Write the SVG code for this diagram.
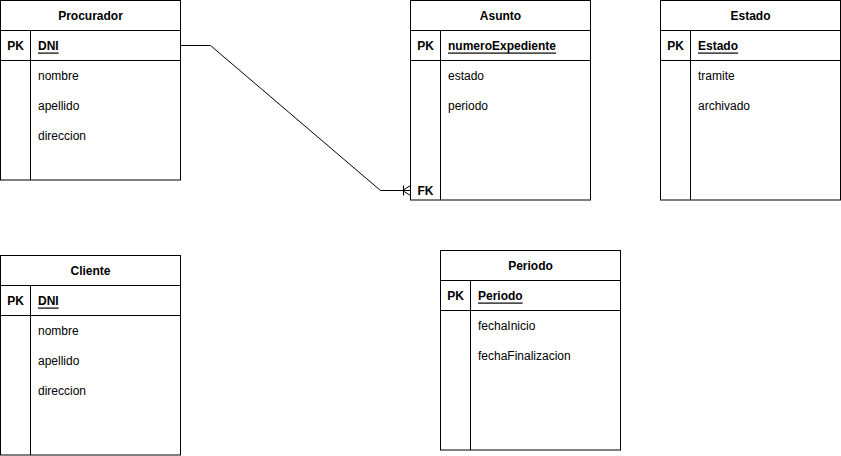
<svg xmlns="http://www.w3.org/2000/svg" width="841" height="456" viewBox="0 0 841 456">
<style>
.box{fill:#fff;stroke:#000;stroke-width:1}
.ln{stroke:#000;stroke-width:1;fill:none}
text{font-family:"Liberation Sans",Arial,sans-serif;font-size:12px;fill:#000;dominant-baseline:central}
.h{font-weight:bold;text-anchor:middle}
.k{font-weight:bold;text-anchor:middle}
.pk{font-weight:bold;text-decoration:underline}
</style>
<rect width="841" height="456" fill="#fff"/>
<g id="procurador">
<rect class="box" x="0.5" y="0.5" width="180" height="179.5"/>
<line class="ln" x1="0.5" y1="30.5" x2="180.5" y2="30.5"/>
<line class="ln" x1="0.5" y1="60.5" x2="180.5" y2="60.5"/>
<line class="ln" x1="30.5" y1="30.5" x2="30.5" y2="180"/>
<text class="h" x="90.5" y="15.5">Procurador</text>
<text class="k" x="15.5" y="45.5">PK</text>
<text class="pk" x="38" y="45.5">DNI</text>
<text x="38" y="75.5">nombre</text>
<text x="38" y="105.5">apellido</text>
<text x="38" y="135.5">direccion</text>
</g>
<g id="asunto">
<rect class="box" x="410.5" y="0.5" width="180" height="199.5"/>
<line class="ln" x1="410.5" y1="30.5" x2="590.5" y2="30.5"/>
<line class="ln" x1="410.5" y1="60.5" x2="590.5" y2="60.5"/>
<line class="ln" x1="440.5" y1="30.5" x2="440.5" y2="200"/>
<text class="h" x="500.5" y="15.5">Asunto</text>
<text class="k" x="425.5" y="45.5">PK</text>
<text class="pk" x="448" y="45.5">numeroExpediente</text>
<text x="448" y="75.5">estado</text>
<text x="448" y="105.5">periodo</text>
<text class="k" x="425.5" y="190.5">FK</text>
</g>
<g id="estado">
<rect class="box" x="660.5" y="0.5" width="180" height="199.5"/>
<line class="ln" x1="660.5" y1="30.5" x2="840.5" y2="30.5"/>
<line class="ln" x1="660.5" y1="60.5" x2="840.5" y2="60.5"/>
<line class="ln" x1="690.5" y1="30.5" x2="690.5" y2="200"/>
<text class="h" x="750.5" y="15.5">Estado</text>
<text class="k" x="675.5" y="45.5">PK</text>
<text class="pk" x="698" y="45.5">Estado</text>
<text x="698" y="75.5">tramite</text>
<text x="698" y="105.5">archivado</text>
</g>
<g id="cliente">
<rect class="box" x="0.5" y="255.5" width="180" height="199.5"/>
<line class="ln" x1="0.5" y1="285.5" x2="180.5" y2="285.5"/>
<line class="ln" x1="0.5" y1="315.5" x2="180.5" y2="315.5"/>
<line class="ln" x1="30.5" y1="285.5" x2="30.5" y2="455"/>
<text class="h" x="90.5" y="270.5">Cliente</text>
<text class="k" x="15.5" y="300.5">PK</text>
<text class="pk" x="38" y="300.5">DNI</text>
<text x="38" y="330.5">nombre</text>
<text x="38" y="360.5">apellido</text>
<text x="38" y="390.5">direccion</text>
</g>
<g id="periodo">
<rect class="box" x="440.5" y="250.5" width="180" height="199.5"/>
<line class="ln" x1="440.5" y1="280.5" x2="620.5" y2="280.5"/>
<line class="ln" x1="440.5" y1="310.5" x2="620.5" y2="310.5"/>
<line class="ln" x1="470.5" y1="280.5" x2="470.5" y2="450"/>
<text class="h" x="530.5" y="265.5">Periodo</text>
<text class="k" x="455.5" y="295.5">PK</text>
<text class="pk" x="478" y="295.5">Periodo</text>
<text x="478" y="325.5">fechaInicio</text>
<text x="478" y="355.5">fechaFinalizacion</text>
</g>
<g id="connectors">
<path class="ln" d="M180.5 45.5 H210.5 L380.5 190.5 H410.5"/>
<line class="ln" x1="403.5" y1="185.5" x2="403.5" y2="195.5"/>
<path class="ln" d="M410.5 185.5 L402.5 190.5 L410.5 195.5"/>
</g>
</svg>
